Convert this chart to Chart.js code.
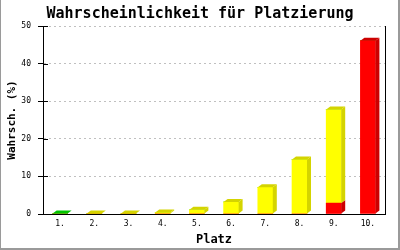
<!DOCTYPE html>
<html>
<head>
<meta charset="utf-8">
<script src="https://cdn.jsdelivr.net/npm/chart.js@4"></script>
<style>
  body { margin: 0; background: #fff; }
  #c { display: block; }
</style>
</head>
<body>
<canvas id="c" width="400" height="250"></canvas>
<script>
// Platz 1-10, stacked segments in %
const labels = ['1.', '2.', '3.', '4.', '5.', '6.', '7.', '8.', '9.', '10.'];
const redValues    = [0, 0, 0, 0, 0, 0, 0, 0, 2.9, 46.1];
const yellowValues = [0, 0.1, 0.1, 0.4, 1.1, 3.2, 7.1, 14.5, 24.9, 0];
const greenValues  = [0.1, 0, 0, 0, 0, 0, 0, 0, 0, 0];
const yTicks = [0, 10, 20, 30, 40, 50];

const frontColors = ['#ff0000', '#ffff00', '#00dd00'];
const sideColors  = ['#cc0000', '#d4d400', '#00c400'];

const mono = "'DejaVu Sans Mono', 'Liberation Mono', monospace";

// draws the right/top faces so the bars look like blocks
const depth = {
  id: 'depth',
  afterDatasetsDraw(chart) {
    const ctx = chart.ctx;
    const dx = 4, dy = 3;
    ctx.save();
    for (let i = 0; i < labels.length; i++) {
      let topEl = null, topCol = null;
      chart.data.datasets.forEach((ds, d) => {
        if (!(ds.data[i] > 0)) return;
        const el = chart.getDatasetMeta(d).data[i];
        const x1 = el.x + el.width / 2;
        ctx.fillStyle = sideColors[d];
        ctx.beginPath();
        ctx.moveTo(x1, el.base);
        ctx.lineTo(x1 + dx, el.base - dy);
        ctx.lineTo(x1 + dx, el.y - dy);
        ctx.lineTo(x1, el.y);
        ctx.closePath();
        ctx.fill();
        topEl = el; topCol = sideColors[d];
      });
      if (topEl) {
        const x0 = topEl.x - topEl.width / 2, x1 = topEl.x + topEl.width / 2;
        ctx.fillStyle = topCol;
        ctx.beginPath();
        ctx.moveTo(x0, topEl.y);
        ctx.lineTo(x1, topEl.y);
        ctx.lineTo(x1 + dx, topEl.y - dy);
        ctx.lineTo(x0 + dx, topEl.y - dy);
        ctx.closePath();
        ctx.fill();
      }
    }
    ctx.restore();
  },
  afterDraw(chart) {
    const ctx = chart.ctx, a = chart.chartArea, y = chart.scales.y;
    ctx.save();
    ctx.strokeStyle = '#000';
    ctx.lineWidth = 1;
    ctx.beginPath();
    // right frame line
    ctx.moveTo(Math.round(a.right) + 0.5, a.top);
    ctx.lineTo(Math.round(a.right) + 0.5, a.bottom);
    // inner half of the y tick marks
    yTicks.forEach(v => {
      const py = Math.round(y.getPixelForValue(v)) + 0.5;
      ctx.moveTo(a.left, py);
      ctx.lineTo(a.left + 5, py);
    });
    ctx.stroke();
    // grey image border
    ctx.fillStyle = '#9a9a9a';
    ctx.fillRect(0, 0, 1, 250);
    ctx.fillRect(398, 0, 2, 250);
    ctx.fillRect(0, 248, 400, 2);
    ctx.restore();
  }
};

new Chart(document.getElementById('c'), {
  type: 'bar',
  data: {
    labels: labels,
    datasets: [
      { data: redValues, backgroundColor: frontColors[0] },
      { data: yellowValues, backgroundColor: frontColors[1] },
      { data: greenValues, backgroundColor: frontColors[2] }
    ]
  },
  options: {
    responsive: false,
    animation: false,
    layout: { padding: 0 },
    datasets: { bar: { barThickness: 15, borderWidth: 0 } },
    plugins: {
      legend: { display: false },
      tooltip: { enabled: false },
      title: {
        display: true,
        text: 'Wahrscheinlichkeit für Platzierung',
        color: '#000',
        font: { family: mono, size: 15, weight: 'bold', lineHeight: 1.2 },
        padding: { top: 5, bottom: 3 }
      }
    },
    scales: {
      x: {
        stacked: true,
        afterFit: s => { s.height = 36; },
        grid: { display: false, drawTicks: false },
        border: { color: '#000', width: 1 },
        ticks: { color: '#000', padding: 5, maxRotation: 0, font: { family: mono, size: 8 } },
        title: {
          display: true, text: 'Platz', color: '#000',
          font: { family: mono, size: 12, weight: 'bold', lineHeight: 1.2 },
          padding: { top: 0, bottom: 3 }
        }
      },
      y: {
        stacked: true,
        min: 0, max: 50,
        afterFit: s => { s.width = 43; },
        afterBuildTicks: s => { s.ticks = yTicks.map(v => ({ value: v })); },
        grid: {
          color: '#c0c0c0',
          tickColor: '#000',
          tickLength: 5,
          tickBorderDash: [],
          tickWidth: 1
        },
        border: { color: '#000', width: 1, dash: [2, 3] },
        ticks: { color: '#000', padding: 7, font: { family: mono, size: 8 } },
        title: {
          display: true, text: 'Wahrsch. (%)', color: '#000',
          font: { family: mono, size: 11, weight: 'bold', lineHeight: 1.2 },
          padding: { top: 6, bottom: 0 }
        }
      },
      // empty right axis only to keep the right margin
      yr: {
        position: 'right',
        display: true,
        afterFit: s => { s.width = 15; },
        grid: { display: false, drawTicks: false },
        border: { display: false },
        ticks: { display: false }
      }
    }
  },
  plugins: [depth]
});
</script>
</body>
</html>
